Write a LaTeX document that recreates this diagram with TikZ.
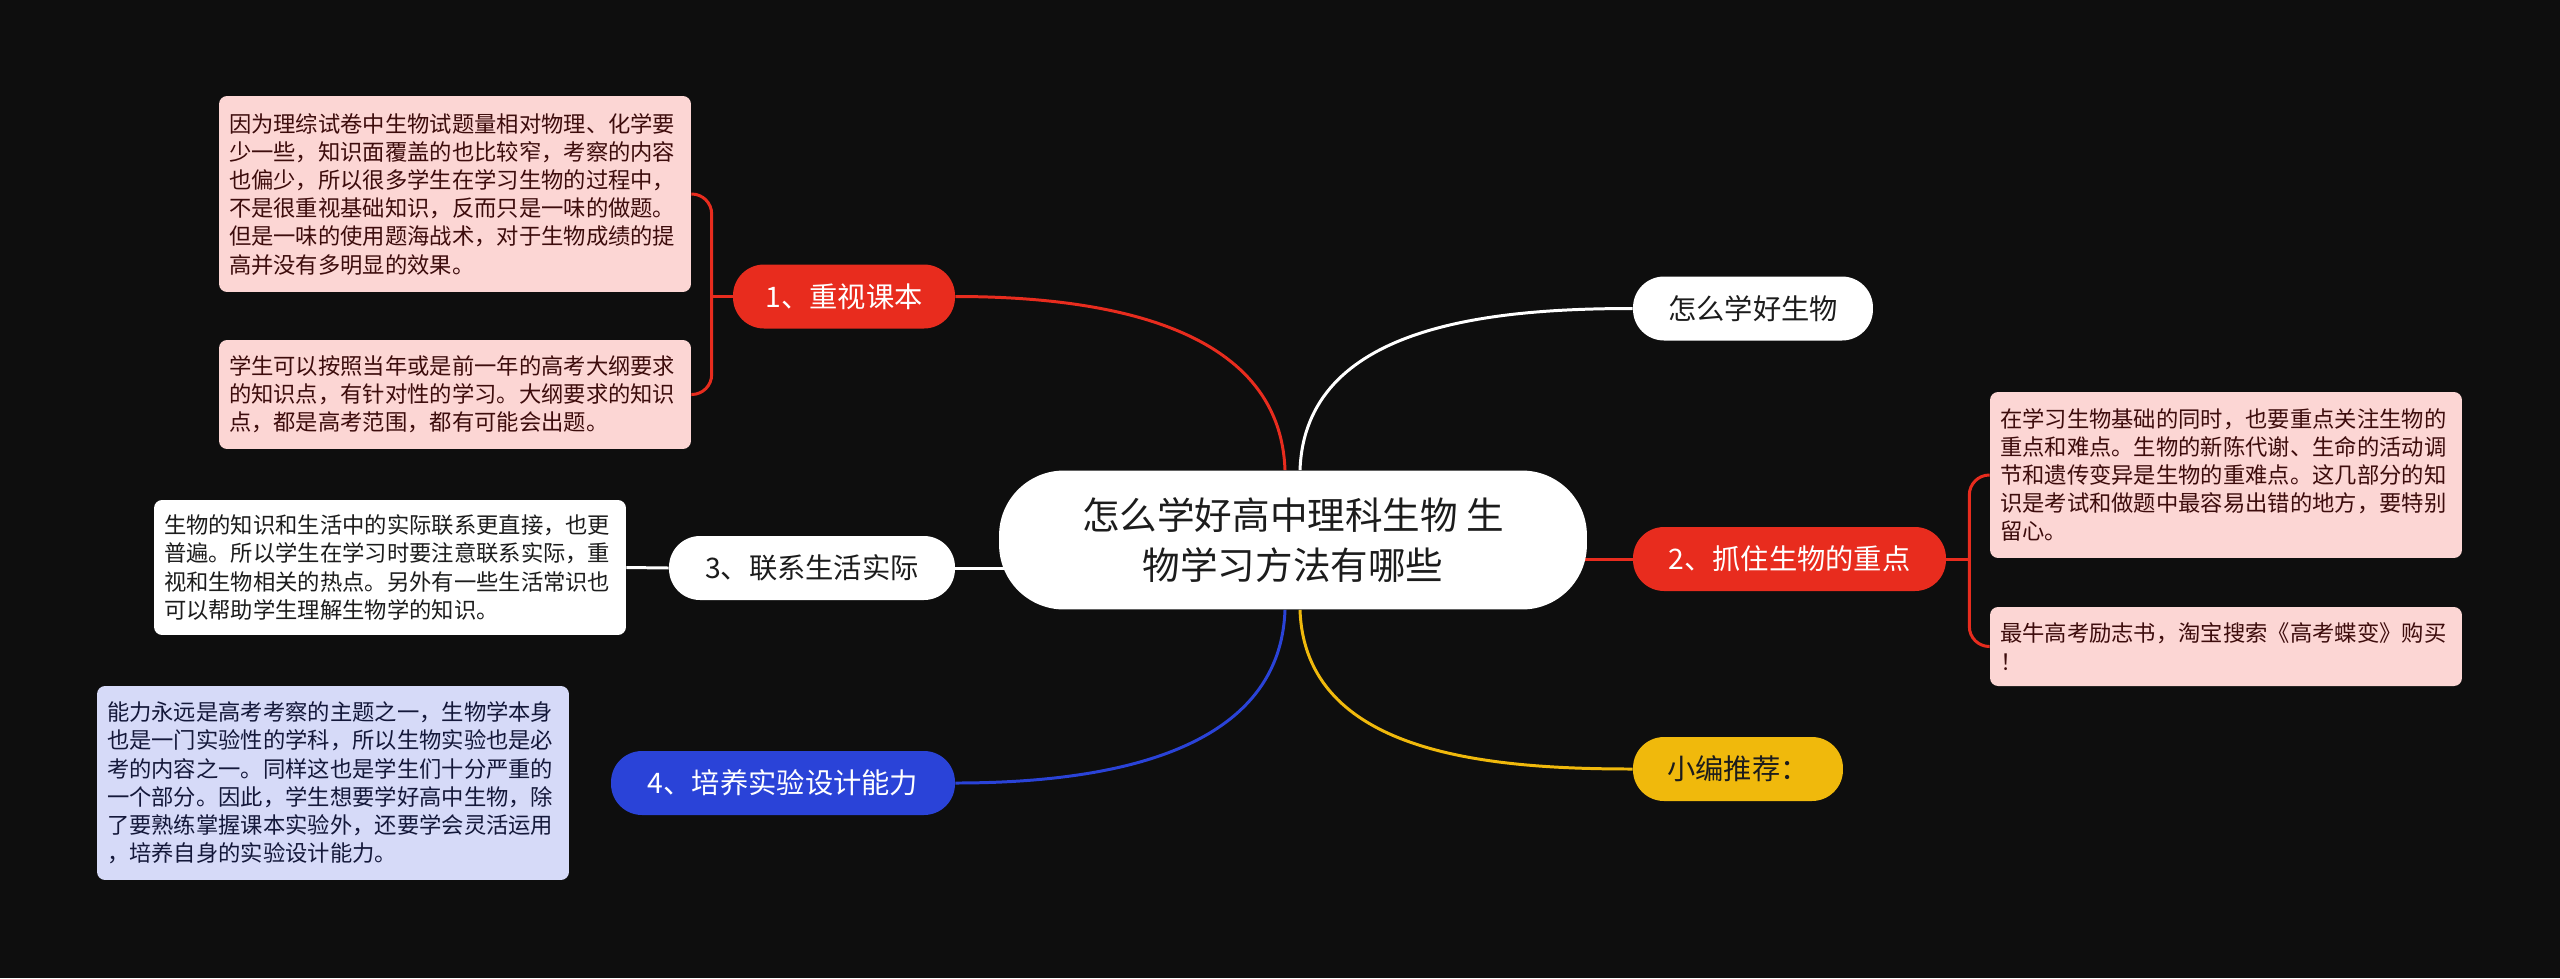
\documentclass[tikz,border=0pt]{standalone}
\usepackage{fontspec}
\setmainfont{Noto Sans CJK SC}
\usepackage{tikz}
\usetikzlibrary{positioning}
\pgfdeclarelayer{back}
\pgfsetlayers{back,main}

\definecolor{canvas}{HTML}{0E0E0E}
\definecolor{redtopic}{HTML}{E82C1E}
\definecolor{bluetopic}{HTML}{2A43D8}
\definecolor{yellowtopic}{HTML}{F0B90C}
\definecolor{pinknote}{HTML}{FCD6D4}
\definecolor{pinkink}{HTML}{3D0C0C}
\definecolor{lilacnote}{HTML}{D6DAF8}
\definecolor{lilacink}{HTML}{14183A}
\definecolor{darkink}{HTML}{1C1C1C}

\begin{document}
\begin{tikzpicture}[x=0.02cm,y=-0.02cm,
  root/.style={fill=white,text=darkink,rounded corners=1.3cm,minimum width=11.76cm,
    minimum height=2.78cm,align=center,font=\fontsize{21.4pt}{28.6pt}\selectfont},
  topic/.style={rounded corners=0.62cm,minimum height=1.28cm,inner sep=0pt,
    font=\fontsize{16.1pt}{19pt}\selectfont},
  note/.style={rounded corners=0.16cm,text width=9.04cm,inner xsep=0.2cm,inner ysep=0pt,
    align=left,font=\fontsize{12.7pt}{16.05pt}\selectfont},
  link/.style={line width=1.7pt}]
  % centre
  \node[root] (root) at (1293,540) {怎么学好高中理科生物 生\\物学习方法有哪些};

  % topics
  \node[topic,fill=redtopic,text=white,minimum width=4.44cm] (n1) at (844,296.5) {1、重视课本};
  \node[topic,fill=white,text=darkink,minimum width=5.72cm] (n3) at (812,568) {3、联系生活实际};
  \node[topic,fill=bluetopic,text=white,minimum width=6.88cm] (n4) at (783,783) {4、培养实验设计能力};
  \node[topic,fill=white,text=darkink,minimum width=4.8cm] (t0) at (1753,308.5) {怎么学好生物};
  \node[topic,fill=redtopic,text=white,minimum width=6.26cm] (n2) at (1789.5,559) {2、抓住生物的重点};
  \node[topic,fill=yellowtopic,text=darkink,minimum width=4.2cm] (y0) at (1738,769) {小编推荐：};

  % notes
  \node[note,fill=pinknote,text=pinkink,minimum height=3.92cm] (b1) at (455,194)
    {因为理综试卷中生物试题量相对物理、化学要\\少一些，知识面覆盖的也比较窄，考察的内容\\也偏少，所以很多学生在学习生物的过程中，\\不是很重视基础知识，反而只是一味的做题。\\但是一味的使用题海战术，对于生物成绩的提\\高并没有多明显的效果。};
  \node[note,fill=pinknote,text=pinkink,minimum height=2.18cm] (b2) at (455,394.5)
    {学生可以按照当年或是前一年的高考大纲要求\\的知识点，有针对性的学习。大纲要求的知识\\点，都是高考范围，都有可能会出题。};
  \node[note,fill=white,text=darkink,minimum height=2.7cm] (b3) at (390,567.5)
    {生物的知识和生活中的实际联系更直接，也更\\普遍。所以学生在学习时要注意联系实际，重\\视和生物相关的热点。另外有一些生活常识也\\可以帮助学生理解生物学的知识。};
  \node[note,fill=lilacnote,text=lilacink,minimum height=3.88cm] (b4) at (333,783)
    {能力永远是高考考察的主题之一，生物学本身\\也是一门实验性的学科，所以生物实验也是必\\考的内容之一。同样这也是学生们十分严重的\\一个部分。因此，学生想要学好高中生物，除\\了要熟练掌握课本实验外，还要学会灵活运用\\，培养自身的实验设计能力。};
  \node[note,fill=pinknote,text=pinkink,minimum height=3.32cm] (r1) at (2226,475)
    {在学习生物基础的同时，也要重点关注生物的\\重点和难点。生物的新陈代谢、生命的活动调\\节和遗传变异是生物的重难点。这几部分的知\\识是考试和做题中最容易出错的地方，要特别\\留心。};
  \node[note,fill=pinknote,text=pinkink,minimum height=1.58cm] (r2) at (2226,646.5)
    {最牛高考励志书，淘宝搜索《高考蝶变》购买\\！};

  \begin{pgfonlayer}{back}
    \fill[canvas] (0,0) rectangle (2560,978);

    % edges: centre to topics
    \path[link]
      ([xshift=-0.16cm]root.north) edge[draw=redtopic,out=92,in=0] (n1.east)
      ([xshift=0.14cm]root.north) edge[draw=white,out=88,in=180] (t0.west)
      ([xshift=-0.16cm]root.south) edge[draw=bluetopic,out=-92,in=0] (n4.east)
      ([xshift=0.14cm]root.south) edge[draw=yellowtopic,out=-88,in=180] (y0.west);
    \draw[link,white] (n3.east) -- (n3.east -| root.center);
    \draw[link,redtopic] (n2.west) -- (n2.west -| root.center);

    % edges: topics to notes
    \coordinate (k1) at ([xshift=-0.42cm]n1.west);
    \coordinate (k2) at ([xshift=0.46cm]n2.east);
    \draw[link,redtopic] (n1.west) -- (k1);
    \draw[link,redtopic,rounded corners=0.4cm] (b1.east) -| (k1) |- (b2.east);
    \draw[link,redtopic] (n2.east) -- (k2);
    \draw[link,redtopic,rounded corners=0.4cm] (r1.west) -| (k2) |- (r2.west);
    \draw[link,white] (n3.west) -- (b3.east);
  \end{pgfonlayer}
\end{tikzpicture}
\end{document}
